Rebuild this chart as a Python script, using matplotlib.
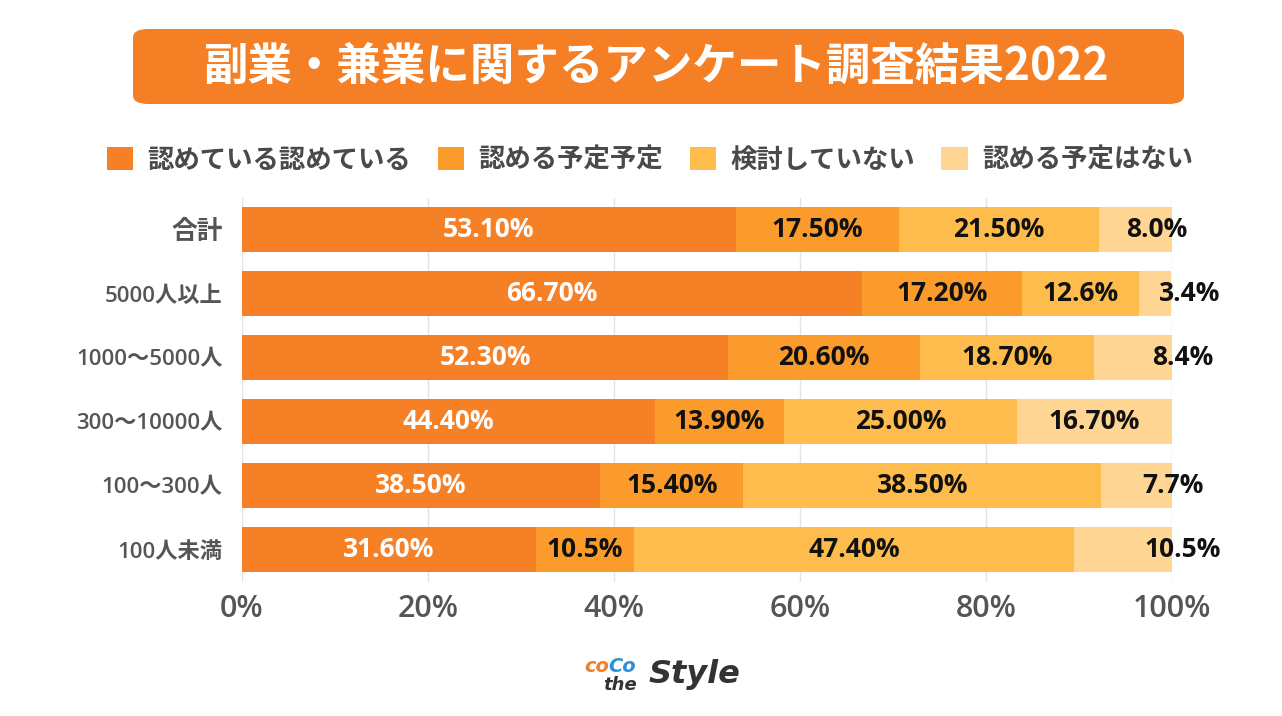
import numpy as np
import matplotlib.pyplot as plt
from matplotlib.patches import FancyBboxPatch, Patch

plt.rcParams['font.family'] = ['Noto Sans CJK JP', 'DejaVu Sans']
NUM_FONT = ['Open Sans', 'Noto Sans CJK JP']

# データ
categories = ['合計', '5000人以上', '1000～5000人', '300～10000人', '100～300人', '100人未満']
series_names = ['認めている認めている', '認める予定予定', '検討していない', '認める予定はない']
s1 = [53.1, 66.7, 52.3, 44.4, 38.5, 31.6]
s2 = [17.5, 17.2, 20.6, 13.9, 15.4, 10.5]
s3 = [21.5, 12.6, 18.7, 25.0, 38.5, 47.4]
s4 = [8.0, 3.4, 8.4, 16.7, 7.7, 10.5]
labels1 = ['53.10%', '66.70%', '52.30%', '44.40%', '38.50%', '31.60%']
labels2 = ['17.50%', '17.20%', '20.60%', '13.90%', '15.40%', '10.5%']
labels3 = ['21.50%', '12.6%', '18.70%', '25.00%', '38.50%', '47.40%']
labels4 = ['8.0%', '3.4%', '8.4%', '16.70%', '7.7%', '10.5%']
xticks = [0, 20, 40, 60, 80, 100]

colors = ['#F58025', '#FA9B2C', '#FDBC4B', '#FED592']
text_colors = ['white', '#111111', '#111111', '#111111']
# 最後の区間ラベルの横ずれ（元画像に合わせる）
last_shift = [2.3, 3.7, 5.4, 0.0, 3.8, 6.4]

fig = plt.figure(figsize=(12.82, 7.16), dpi=100)
ax = fig.add_axes([242 / 1282, 1 - 581.5 / 716, 930 / 1282, 384 / 716])

y = np.arange(len(categories))
series = [s1, s2, s3, s4]
all_labels = [labels1, labels2, labels3, labels4]
left = np.zeros(len(categories))
for i, vals in enumerate(series):
    vals = np.array(vals)
    ax.barh(y, vals, left=left, height=0.70, color=colors[i], zorder=2)
    for j in range(len(categories)):
        cx = left[j] + vals[j] / 2
        if i == 3:
            cx += last_shift[j]
        ax.text(cx, y[j], all_labels[i][j], ha='center', va='center', family=NUM_FONT,
                fontsize=19, fontweight='bold', color=text_colors[i], zorder=3)
    left += vals

ax.set_ylim(len(categories) - 0.5, -0.5)
ax.set_xlim(0, 100)
ax.set_yticks(y)
ax.set_yticklabels(categories, color='#555555', fontweight='semibold', family=NUM_FONT)
for k, t in enumerate(ax.get_yticklabels()):
    t.set_fontsize(18.5 if k == 0 else 16)
ax.set_xticks(xticks)
ax.set_xticklabels([f'{v}%' for v in xticks], fontsize=22, color='#555555',
                   family=NUM_FONT, fontweight='semibold')
ax.tick_params(axis='both', length=0)
ax.tick_params(axis='y', pad=14)
ax.tick_params(axis='x', pad=9)
ax.grid(axis='x', color='#e4e4e4', linewidth=1, zorder=0)
for sp in ax.spines.values():
    sp.set_visible(False)

# タイトル
banner = FancyBboxPatch((133 / 1282, 1 - 104 / 716), (1184 - 133) / 1282, 75 / 716,
                        boxstyle='round,pad=0,rounding_size=0.012',
                        transform=fig.transFigure, facecolor='#F47F24',
                        edgecolor='none')
fig.patches.append(banner)
fig.text(657 / 1282, 1 - 67 / 716, '副業・兼業に関するアンケート調査結果2022',
         ha='center', va='center', fontsize=32, fontweight='bold', color='white')

# 凡例
handles = [Patch(facecolor=c, edgecolor='none') for c in colors]
fig.legend(handles, series_names, loc='center', bbox_to_anchor=(650 / 1282, 1 - 160 / 716),
           ncol=4, frameon=False, handlelength=1.0, handleheight=1.0,
           handletextpad=0.55, columnspacing=1.0, labelcolor='#4a4a4a',
           prop={'weight': 'bold', 'size': 19})

# ロゴ
fig.text(584 / 1282, 1 - 666 / 716, 'co', fontsize=14, fontweight='bold', style='italic',
         color='#F47F24', ha='left', va='center', family='DejaVu Sans')
fig.text(608 / 1282, 1 - 666 / 716, 'Co', fontsize=14, fontweight='bold', style='italic',
         color='#2D8FD5', ha='left', va='center', family='DejaVu Sans')
fig.text(603 / 1282, 1 - 685 / 716, 'the', fontsize=13, fontweight='bold', style='italic',
         color='#333333', ha='left', va='center', family='DejaVu Sans')
fig.text(649 / 1282, 1 - 675 / 716, 'Style', fontsize=23, fontweight='bold', style='italic',
         color='#333333', ha='left', va='center', family='DejaVu Sans')

fig.savefig('out.png', dpi=100)
